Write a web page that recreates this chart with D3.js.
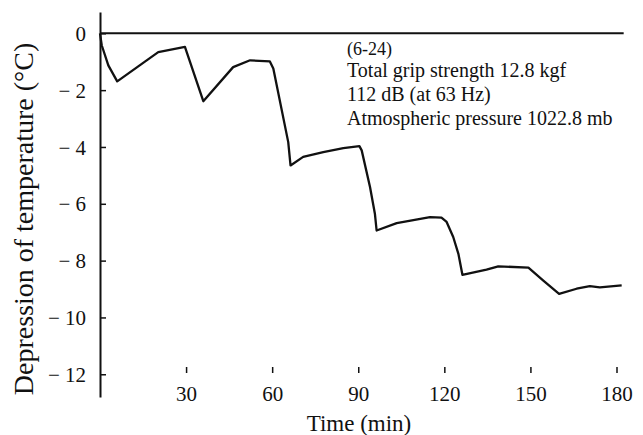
<!DOCTYPE html>
<html>
<head>
<meta charset="utf-8">
<script src="https://d3js.org/d3.v7.min.js"></script>
<style>
  body { margin: 0; background: #fff; }
  text { font-family: "Liberation Serif", "Times New Roman", serif; fill: #111; }
</style>
</head>
<body>
<svg id="chart" width="643" height="435"></svg>
<script>
// values
var times = [0, 0.6, 2.9, 6.0, 20.3, 29.6, 36.0, 46.4, 52.3, 59.2, 60.4, 65.6, 66.4, 70.8, 77.8, 84.8, 90.4, 91.2,
             94.1, 95.8, 96.4, 103.4, 115, 119, 120.8, 123.1, 124.9, 126.3, 134.7, 138.8, 149.3, 154.5, 160,
             166.1, 170.7, 174.2, 181.8];
var temps = [0, -0.42, -1.13, -1.69, -0.66, -0.48, -2.39, -1.19, -0.95, -0.99, -1.24, -3.83, -4.65, -4.35, -4.18, -4.04, -3.97, -4.12,
             -5.41, -6.35, -6.94, -6.68, -6.47, -6.49, -6.64, -7.17, -7.76, -8.50, -8.32, -8.20, -8.25, -8.70, -9.17,
             -8.99, -8.90, -8.94, -8.87];
var xTicks = [30, 60, 90, 120, 150, 180];
var yTicks = [0, -2, -4, -6, -8, -10, -12];
var notes = ["Total grip strength 12.8 kgf", "112 dB (at 63 Hz)", "Atmospheric pressure 1022.8 mb"];

var svg = d3.select("#chart");

var x = d3.scaleLinear().domain([0, 180]).range([100, 616.5]);
var y = d3.scaleLinear().domain([0.75, -12.8]).range([12, 397]);

// y axis, ticks point inward
var yAxis = svg.append("g")
  .attr("transform", "translate(" + x(0) + ",0)")
  .call(d3.axisLeft(y).tickValues(yTicks).tickSizeInner(-6).tickSizeOuter(0).tickPadding(14)
    .tickFormat(function(d) { return d < 0 ? "\u2212 " + (-d) : d; }));
yAxis.select(".domain").attr("stroke", "#111").attr("stroke-width", 2);
yAxis.selectAll(".tick line").attr("stroke", "#111").attr("stroke-width", 1.5);
yAxis.selectAll("text").style("font-size", "21px").attr("fill", "#111").attr("dy", "0.34em");

// x axis has no line, only the small tick marks
var xAxis = svg.append("g")
  .attr("transform", "translate(0,367)")
  .call(d3.axisBottom(x).tickValues(xTicks).tickSize(6).tickPadding(13));
xAxis.select(".domain").remove();
xAxis.selectAll(".tick line").attr("stroke", "#111").attr("stroke-width", 1.5);
xAxis.selectAll("text").style("font-size", "21px").attr("fill", "#111");

// zero line
svg.append("line")
  .attr("x1", x(0)).attr("x2", x(182.5))
  .attr("y1", y(0)).attr("y2", y(0))
  .attr("stroke", "#111").attr("stroke-width", 2);

// temperature curve
var line = d3.line()
  .x(function(d, i) { return x(times[i]); })
  .y(function(d) { return y(d); });

svg.append("path")
  .datum(temps)
  .attr("d", line)
  .attr("fill", "none")
  .attr("stroke", "#111")
  .attr("stroke-width", 2.3)
  .attr("stroke-linejoin", "round");

// axis titles
svg.append("text")
  .attr("x", 359).attr("y", 431)
  .style("text-anchor", "middle")
  .style("font-size", "23px")
  .text("Time (min)");

svg.append("text")
  .attr("transform", "translate(33,219) rotate(-90)")
  .style("text-anchor", "middle")
  .style("font-size", "28px")
  .text("Depression of temperature (\u00b0C)");

// annotation
svg.append("text")
  .attr("x", 347).attr("y", 55)
  .style("font-size", "18px")
  .text("(6-24)");

svg.selectAll(".note")
  .data(notes)
  .enter()
  .append("text")
  .attr("class", "note")
  .attr("x", 347)
  .attr("y", function(d, i) { return 77 + i * 24; })
  .style("font-size", "20px")
  .text(function(d) { return d; });
</script>
</body>
</html>
